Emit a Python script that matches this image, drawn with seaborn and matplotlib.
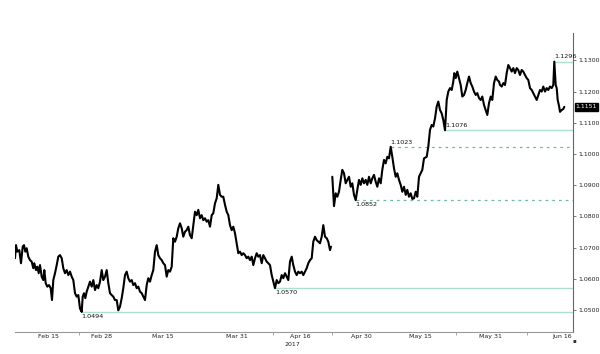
import matplotlib
matplotlib.use("Agg")
import matplotlib.pyplot as plt
import matplotlib.transforms as mtransforms
import seaborn as sns

# EUR/USD intraday, Feb - Jun 2017 (x = session position on the chart's time axis)
seg1_t = [0, 1, 2.3, 4.3, 6, 7.7, 9, 10.3, 11.7, 13.3,
          15, 16.7, 18.3, 19.3, 21, 22.3, 23.7, 25, 26.7, 28.3,
          29.3, 30.7, 32.3, 34, 35.7, 37, 38.3, 40, 41.7, 43.3,
          45, 46.7, 48.3, 50, 51.7, 53.3, 55, 56.7, 58.3, 60,
          61.7, 63.3, 65, 66.7, 67.7, 69, 70.3, 71.7, 73.3,
          75, 76.7, 78.3, 80, 81.7, 83.3,
          85, 86.7, 88.3, 90, 91.7, 93.3,
          95, 96.7, 98.3, 100, 101.7, 103.3,
          105, 106.7, 108.3, 110, 111.7, 113.3,
          115, 116.7, 118.3, 120, 121.7, 123.3,
          125, 126.7, 128.3, 130, 131.7, 133.3,
          135, 136.7, 138.3, 140, 141.7, 143.3,
          145, 146.7, 148.3, 150, 151.7, 153.3,
          155, 156.7, 158.3, 160, 161.7, 163.3,
          165, 166.7, 168.3, 170, 171.7, 173.3,
          175, 176.7, 178.3, 180, 181.7, 183.3,
          185, 186.7, 188.3, 190, 191.7, 193.3,
          195, 196.7, 198.3, 200, 201.7, 203.3,
          205, 206.7, 208.3, 210, 211.7, 213.3,
          215, 216.7, 218.3, 220, 221.7, 223.3,
          225, 226.7, 228.3, 230, 231.7, 233.3,
          235, 236.7, 238.3, 240, 241.7, 243.3,
          245, 246.7, 248.3, 250, 251.7, 253.3,
          255, 256.7, 258.3, 260, 261.7, 263.3,
          265, 266.7, 268.3, 270, 271.7, 273.3,
          275, 276.7, 278.3, 280, 281.7, 283.3,
          285, 286.7, 288.3, 290, 291.7, 293.3,
          295, 296.7, 298.3, 300, 301.7, 303.3,
          305, 306.7, 308.3, 310, 311.7, 313.3,
          315, 316]
seg1_p = [1.0666, 1.0708, 1.0687, 1.0692, 1.0650, 1.0703, 1.0708, 1.0687, 1.0698, 1.0671,
          1.0660, 1.0655, 1.0634, 1.0650, 1.0628, 1.0639, 1.0618, 1.0644, 1.0607, 1.0596,
          1.0628, 1.0586, 1.0575, 1.0580, 1.0570, 1.0532, 1.0596, 1.0618, 1.0644, 1.0671,
          1.0676, 1.0666, 1.0634, 1.0618, 1.0628, 1.0612, 1.0623, 1.0607, 1.0596, 1.0554,
          1.0543, 1.0548, 1.0505, 1.0494, 1.0543, 1.0554, 1.0538, 1.0559, 1.0575,
          1.0591, 1.0575, 1.0596, 1.0564, 1.0580, 1.0570,
          1.0591, 1.0628, 1.0596, 1.0607, 1.0628, 1.0586,
          1.0554, 1.0548, 1.0543, 1.0532, 1.0532, 1.0499,
          1.0511, 1.0538, 1.0570, 1.0612, 1.0623, 1.0602,
          1.0591, 1.0596, 1.0580, 1.0586, 1.0570, 1.0575,
          1.0559, 1.0554, 1.0543, 1.0532, 1.0580, 1.0602,
          1.0591, 1.0612, 1.0628, 1.0687, 1.0708, 1.0676,
          1.0666, 1.0660, 1.0650, 1.0644, 1.0607, 1.0628,
          1.0623, 1.0639, 1.0730, 1.0719, 1.0735, 1.0762,
          1.0778, 1.0762, 1.0735, 1.0751, 1.0756, 1.0767,
          1.0740, 1.0730, 1.0772, 1.0815, 1.0804, 1.0821,
          1.0794, 1.0804, 1.0788, 1.0794, 1.0783, 1.0788,
          1.0767, 1.0804, 1.0810, 1.0842, 1.0858, 1.0901,
          1.0869, 1.0863, 1.0863, 1.0837, 1.0815, 1.0804,
          1.0772, 1.0756, 1.0767, 1.0746, 1.0714, 1.0682,
          1.0687, 1.0676, 1.0682, 1.0676, 1.0666, 1.0671,
          1.0660, 1.0671, 1.0644, 1.0666, 1.0682, 1.0671,
          1.0676, 1.0650, 1.0676, 1.0666, 1.0655, 1.0650,
          1.0644, 1.0612, 1.0591, 1.0570, 1.0596, 1.0586,
          1.0591, 1.0612, 1.0602, 1.0618, 1.0607, 1.0596,
          1.0655, 1.0671, 1.0644, 1.0623, 1.0612, 1.0623,
          1.0618, 1.0623, 1.0612, 1.0623, 1.0634, 1.0650,
          1.0660, 1.0666, 1.0719, 1.0735, 1.0724, 1.0719,
          1.0714, 1.0735, 1.0772, 1.0735, 1.0730, 1.0719,
          1.0692, 1.0703]

seg2_t = [317.3, 319, 320.7, 322.3, 324, 325.7, 327.3, 329, 330.7, 332.3,
          334, 335.7, 337.3, 339, 340.7, 342.3, 344, 345.7, 347.3, 349,
          350.7, 352.3, 354, 355.7, 357.3, 359, 360.7, 362.3, 364, 365.7,
          367.3, 369, 370.7, 372.3, 374, 375.7, 377.3, 379, 380.7, 382.3,
          384, 385.7, 387.3, 389, 390.7, 392.3, 394, 395.7, 397.3, 399,
          400.7, 402.3, 404, 405.7, 407.3, 409, 411.7, 413.3, 415, 416.7,
          418.3, 420, 421.7, 423.3, 425, 426.7, 428.3, 430, 431.7, 433.3,
          435, 436.7, 438.3, 439.3, 440.7, 442.3, 444, 445.7, 447.3, 449,
          450.7, 452.3, 454, 455.7, 457.3, 459, 460.7, 462.3, 464, 465.7,
          467.3, 469, 470.7, 472.3, 474, 475.7, 477.3, 479, 480.7, 482.3,
          484, 485, 486.7, 488.3, 490, 491.7, 493.3, 495, 496.7, 498.3,
          500, 501.7, 503.3, 505, 506.7, 508.3, 510, 511.7, 513.3, 515,
          516.7, 518.3, 520, 521.7, 523.3, 525, 526.7, 528.3, 530, 531.7,
          533.3, 535, 536.7, 538.3, 539.3, 540.7, 541.7, 542.7, 544, 545,
          546.7, 548.3, 549.3]
seg2_p = [1.0927, 1.0833, 1.0874, 1.0863, 1.0879, 1.0917, 1.0949, 1.0938, 1.0906, 1.0917,
          1.0927, 1.0895, 1.0906, 1.0869, 1.0852, 1.0885, 1.0917, 1.0901, 1.0922, 1.0906,
          1.0917, 1.0901, 1.0927, 1.0906, 1.0922, 1.0933, 1.0911, 1.0895, 1.0922, 1.0906,
          1.0949, 1.0981, 1.0970, 1.0991, 1.0986, 1.1023, 1.0991, 1.0954, 1.0927, 1.0938,
          1.0917, 1.0901, 1.0879, 1.0895, 1.0869, 1.0885, 1.0863, 1.0874, 1.0856, 1.0858,
          1.0879, 1.0863, 1.0927, 1.0938, 1.0949, 1.0986, 1.0991, 1.1023, 1.1077, 1.1093,
          1.1088, 1.1114, 1.1152, 1.1168, 1.1141, 1.1130, 1.1109, 1.1076, 1.1173, 1.1200,
          1.1211, 1.1205, 1.1232, 1.1259, 1.1243, 1.1264, 1.1243, 1.1221, 1.1184, 1.1189,
          1.1205, 1.1227, 1.1248, 1.1227, 1.1216, 1.1200, 1.1189, 1.1195, 1.1179, 1.1173,
          1.1184, 1.1157, 1.1141, 1.1125, 1.1163, 1.1184, 1.1173, 1.1227, 1.1248, 1.1237,
          1.1232, 1.1221, 1.1216, 1.1227, 1.1221, 1.1259, 1.1285, 1.1275, 1.1264, 1.1275,
          1.1259, 1.1275, 1.1269, 1.1253, 1.1269, 1.1264, 1.1253, 1.1243, 1.1237, 1.1211,
          1.1205, 1.1195, 1.1184, 1.1173, 1.1189, 1.1205, 1.1200, 1.1216, 1.1200, 1.1211,
          1.1205, 1.1216, 1.1211, 1.1221, 1.1296, 1.1221, 1.1211, 1.1173, 1.1154, 1.1135,
          1.1141, 1.1144, 1.1151]

# support / resistance levels and where they start
levels = [1.0494, 1.0570, 1.0852, 1.1023, 1.1076, 1.1296]
level_start = [66.7, 260, 340.7, 375.7, 430, 539.3]
level_dashed = [False, False, True, True, False, False]
level_above = [False, False, False, True, True, True]

last_price = 1.1151

date_labels = ["Feb 15", "Feb 28", "Mar 15", "Mar 31", "Apr 16",
               "Apr 30", "May 15", "May 31", "Jun 16"]
date_pos = [33.3, 86.7, 148.3, 222.3, 285, 346.7, 405, 475.7, 546.7]
boundary_pos = [64, 141, 258, 317, 441, 512]
price_ticks = [1.05, 1.06, 1.07, 1.08, 1.09, 1.10, 1.11, 1.12, 1.13]

sns.set_style("white")
plt.rcParams['font.family'] = ['DejaVu Sans']

fig = plt.figure(figsize=(6, 3.54), dpi=100)
ax = fig.add_axes([0.025, 0.062, 0.93, 0.845])

# level lines
for lvl, x0, dashed, above in zip(levels, level_start, level_dashed, level_above):
    if dashed:
        ax.hlines(lvl, x0, 558, color="#6fb9a6", lw=0.9, linestyles=(0, (2.2, 3.2)))
    else:
        ax.hlines(lvl, x0, 558, color="#ace0cc", lw=1.0)
    ax.annotate(f"{lvl:.4f}", xy=(x0, lvl), xytext=(0, 1.5 if above else -1.5),
                textcoords="offset points", fontsize=4.6,
                va="bottom" if above else "top", ha="left", color="#111111")

sns.lineplot(x=seg1_t, y=seg1_p, ax=ax, color="black", lw=1.5,
             estimator=None, sort=False)
sns.lineplot(x=seg2_t, y=seg2_p, ax=ax, color="black", lw=1.5,
             estimator=None, sort=False)

ax.set_xlim(0, 558)
ax.set_ylim(1.04295, 1.13878)

for s in ["top", "left"]:
    ax.spines[s].set_visible(False)
ax.spines["right"].set_color("#666666")
ax.spines["right"].set_linewidth(0.8)
ax.spines["bottom"].set_color("#999999")
ax.spines["bottom"].set_linewidth(0.8)

ax.yaxis.tick_right()
ax.set_yticks(price_ticks)
ax.set_yticklabels([f"{v:.4f}" for v in price_ticks])
ax.tick_params(axis="y", which="major", length=2, width=0.6, color="#666666",
               labelsize=4.5, pad=1.5, labelcolor="#222222", right=True, left=False)

ax.set_xticks(date_pos)
ax.set_xticklabels(date_labels)
ax.set_xticks(boundary_pos, minor=True)
ax.tick_params(axis="x", which="major", length=0, labelsize=4.5, pad=1.5,
               labelcolor="#222222")
ax.tick_params(axis="x", which="minor", length=2.5, width=0.6, color="#999999",
               bottom=True)
ax.set_xlabel("")
ax.set_ylabel("")

# last price tag
trans = mtransforms.blended_transform_factory(ax.transAxes, ax.transData)
ax.text(1.005, last_price, f"{last_price:.4f}", transform=trans, fontsize=4.4,
        color="white", va="center", ha="left",
        bbox=dict(boxstyle="square,pad=0.2", fc="black", ec="black"))

fig.text(292 / 600, 1 - 344 / 354, "2017", fontsize=4.5, ha="center", va="center",
         color="#222222")
fig.text(574 / 600, 1 - 341 / 354, "\u25aa", fontsize=4, ha="center", va="center",
         color="#333333")

fig.savefig("out.png", dpi=100)
